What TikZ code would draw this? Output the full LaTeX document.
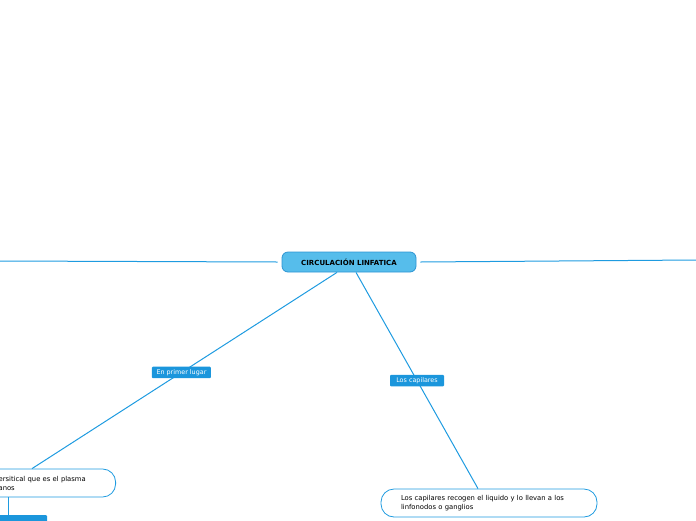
\documentclass[tikz,border=0pt]{standalone}
\usepackage{fontspec}
\setmainfont{DejaVu Sans}
\usepackage{tikz}

\definecolor{linkblue}{HTML}{1E9BE0}
\definecolor{rootfill}{HTML}{56BDEB}
\definecolor{rootline}{HTML}{2E95D3}
\definecolor{tagfill}{HTML}{1B96DC}

\tikzset{
  rootbox/.style={draw=rootline, fill=rootfill, rounded corners=6pt, line width=0.8pt,
    minimum width=134pt, minimum height=20pt, inner sep=0pt,
    font=\fontsize{7}{8}\selectfont\bfseries},
  topicbox/.style={draw=linkblue, fill=white, rounded corners=13pt, line width=0.8pt,
    minimum height=28pt, inner xsep=20pt, inner ysep=0pt, align=left,
    font=\fontsize{6.8}{9}\selectfont},
  tagbox/.style={fill=tagfill, text=white, rounded corners=1pt, inner sep=0pt,
    minimum height=11.5pt, font=\fontsize{6.4}{7}\selectfont},
  link/.style={draw=linkblue, line width=1pt}
}

\begin{document}
\begin{tikzpicture}[x=1pt, y=-1pt]
  \useasboundingbox (0,0) rectangle (696,520);

  \node[rootbox] (root) at (349,262) {CIRCULACIÓN LINFATICA};

  % far ends off to the sides
  \coordinate (lfar) at (0,261);
  \coordinate (rfar) at (696,260);
  \draw[link] (lfar) -- ([xshift=-4pt]root.west);
  \draw[link] ([xshift=4pt]root.east) -- (rfar);

  \node[topicbox, text width=97pt, anchor=east] (plasma) at (116,483)
    {ersitical que es el plasma\\anos};
  \node[topicbox, text width=176pt] (capil) at (489,503)
    {Los capilares recogen el liquido y lo llevan a los\\linfonodos o ganglios};

  \draw[link] ([xshift=-12pt]root.south) -- node[tagbox, minimum width=59pt, pos=0.51] (tagprimer) {En primer lugar}
    ([xshift=-84pt]plasma.north east);
  \draw[link] ([xshift=7pt]root.south) -- node[tagbox, minimum width=54pt] (tagcapil) {Los capilares}
    ([xshift=-11pt]capil.north);

  % cut off at the bottom edge
  \node[tagbox, minimum width=78pt, anchor=north] (tagsub) at (8,515) {};
  \draw[link] (plasma.south -| tagsub.north) -- (tagsub.north);
\end{tikzpicture}
\end{document}
